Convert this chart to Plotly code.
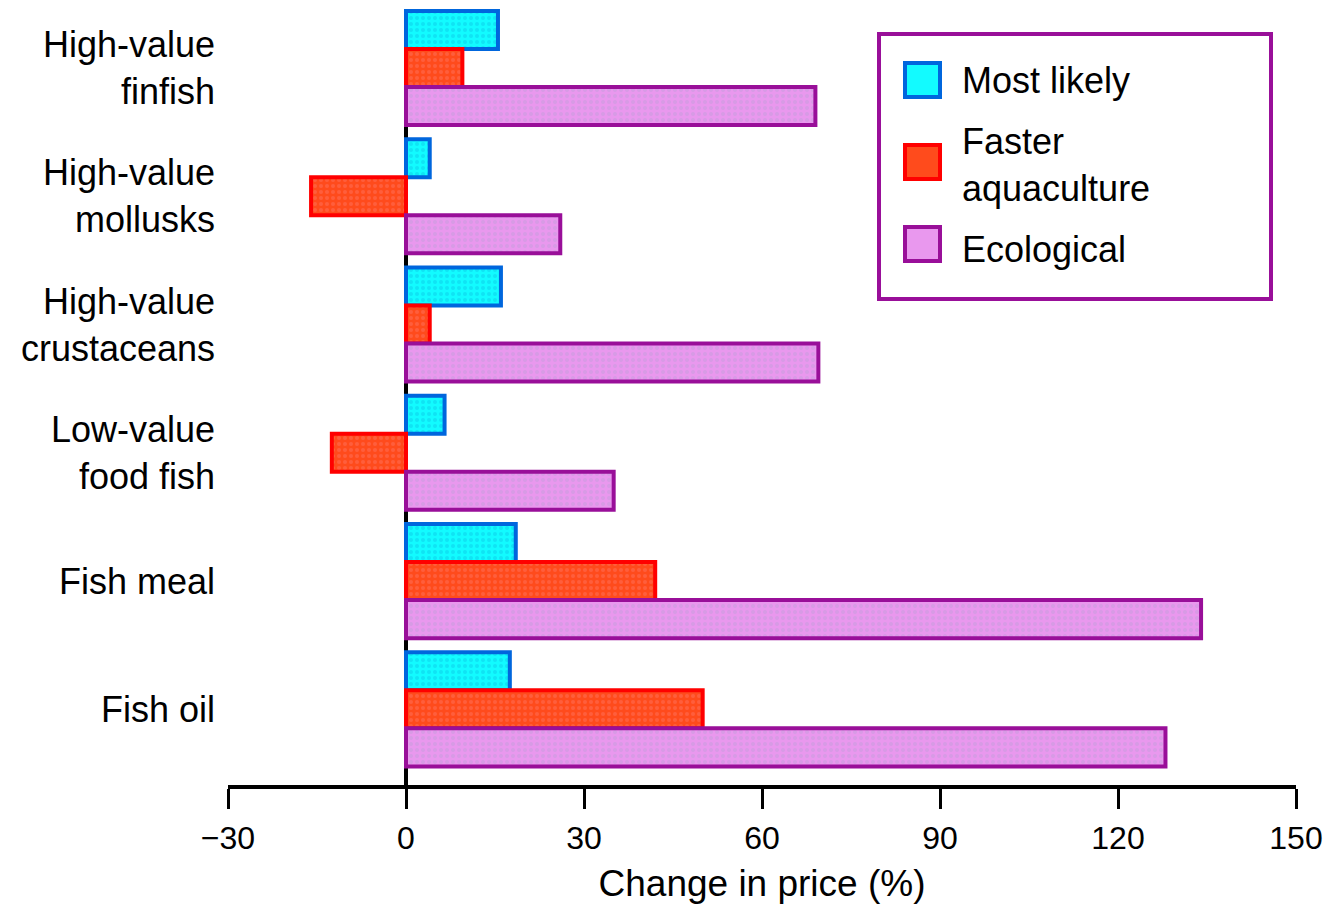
import plotly.graph_objects as go

# Projected change in fish prices by scenario
categories = [
    "High-value<br>finfish",
    "High-value<br>mollusks",
    "High-value<br>crustaceans",
    "Low-value<br>food fish",
    "Fish meal",
    "Fish oil",
]
most_likely = [15.5, 4, 16, 6.5, 18.5, 17.5]
faster_aquaculture = [9.5, -16, 4, -12.5, 42, 50]
ecological = [69, 26, 69.5, 35, 134, 128]

series_names = ["Most likely", "Faster aquaculture", "Ecological"]
legend_labels = ["Most likely", "Faster<br>aquaculture", "Ecological"]
x_ticks = [-30, 0, 30, 60, 90, 120, 150]

FONT = "Liberation Sans, Arial, sans-serif"
styles = [
    dict(fill="#12FBFF", dot="#0FE4F4", line="#0066DD"),
    dict(fill="#FF4B1C", dot="#FF5E3C", line="#FF0000"),
    dict(fill="#E998EE", dot="#D79BE5", line="#990F99"),
]

W, H = 1327, 910
L, R, T, B = 228, 31, 9, 125

fig = go.Figure()
for name, vals, st in zip(series_names, [most_likely, faster_aquaculture, ecological], styles):
    fig.add_trace(go.Bar(
        y=categories, x=vals, orientation="h", name=name,
        marker=dict(color=st["fill"], line=dict(color=st["line"], width=4),
                    pattern=dict(shape=".", fgcolor=st["dot"], bgcolor=st["fill"],
                                 size=6, solidity=0.35, fillmode="replace")),
        showlegend=False,
    ))

# pixel -> paper helpers for the hand-built legend box
pw, ph = W - L - R, H - T - B
def px(x):
    return (x - L) / pw
def py(y):
    return (H - B - y) / ph

shapes = [dict(type="rect", xref="paper", yref="paper",
               x0=px(879), x1=px(1271), y0=py(299), y1=py(34),
               line=dict(color="#990F99", width=4), fillcolor="white", layer="above")]
annotations = []
swatch_tops = [61, 143, 225]
text_centers = [80, 165, 249]
for st, top, tc, txt in zip(styles, swatch_tops, text_centers, legend_labels):
    shapes.append(dict(type="rect", xref="paper", yref="paper",
                       x0=px(905), x1=px(940), y0=py(top + 36), y1=py(top + 2),
                       line=dict(color=st["line"], width=4), fillcolor=st["fill"], layer="above"))
    annotations.append(dict(xref="paper", yref="paper", x=px(960), y=py(tc),
                            xanchor="left", yanchor="middle", align="left",
                            text=txt, showarrow=False,
                            font=dict(family=FONT, size=36, color="black")))

fig.update_layout(
    width=W, height=H,
    margin=dict(l=L, r=R, t=T, b=B),
    paper_bgcolor="white", plot_bgcolor="white",
    barmode="group", bargap=0.11, bargroupgap=0,
    font=dict(family=FONT, size=36, color="black"),
    shapes=shapes, annotations=annotations,
    xaxis=dict(
        range=[-30, 150], tickvals=x_ticks, ticktext=[str(v).replace("-", "\u2212") for v in x_ticks],
        showgrid=False, zeroline=True, zerolinecolor="black", zerolinewidth=4,
        showline=True, linecolor="black", linewidth=4,
        ticks="outside", ticklen=20, tickwidth=3, tickcolor="black",
        tickfont=dict(family=FONT, size=32, color="black"), ticklabelstandoff=2,
        title=dict(text="Change in price (%)", font=dict(family=FONT, size=37, color="black"), standoff=16),
        layer="above traces", automargin=False,
    ),
    yaxis=dict(
        categoryorder="array", categoryarray=categories,
        range=[5.59, -0.46], showgrid=False, zeroline=False, showline=False,
        ticks="", tickfont=dict(family=FONT, size=36, color="black"), ticklabelstandoff=12,
        automargin=False,
    ),
)

fig.write_html("out.html")
